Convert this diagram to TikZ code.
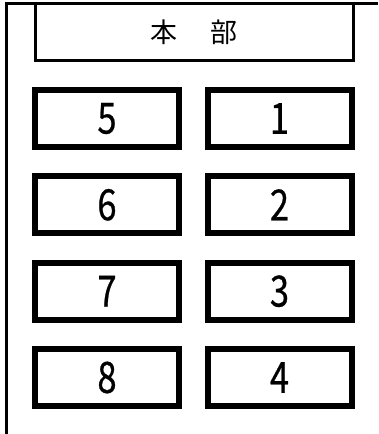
\documentclass[tikz,border=0pt]{standalone}
\usepackage{fontspec}
\newfontfamily\jpfont{Noto Sans CJK JP}
\newfontfamily\numfont[FakeStretch=0.8,FakeBold=0.6]{Noto Sans CJK JP}

\begin{document}
\begin{tikzpicture}[x=1pt,y=-1pt,
        room/.style={
        rectangle, draw=black, line width=6pt,
        inner sep=0pt, minimum width=144pt, minimum height=57pt,
        font=\numfont\fontsize{43}{43}\selectfont},
        head/.style={
        rectangle, draw=black, line width=3pt,
        inner sep=0pt, minimum width=318pt, minimum height=57.5pt,
        font=\jpfont\fontsize{27}{27}\selectfont},
        ]
        \useasboundingbox (0,0) rectangle (378,434);

        \coordinate (wb) at (6.3,434);
        \coordinate (wc) at (6.3,3.5);
        \coordinate (we) at (378,3.5);
        \draw[line width=3pt] (wb) -- (wc) -- (we);

        \node (hq) [head] at (194.2,32.2) {本\hspace{33pt}部};

        \node (r5) [room] at (107,118.5) {5};
        \node (r1) [room] at (279.5,118.5) {1};
        \node (r6) [room] at (107,204.8) {6};
        \node (r2) [room] at (279.5,204.8) {2};
        \node (r7) [room] at (107,291.2) {7};
        \node (r3) [room] at (279.5,291.2) {3};
        \node (r8) [room] at (107,377.5) {8};
        \node (r4) [room] at (279.5,377.5) {4};
    \end{tikzpicture}
\end{document}
